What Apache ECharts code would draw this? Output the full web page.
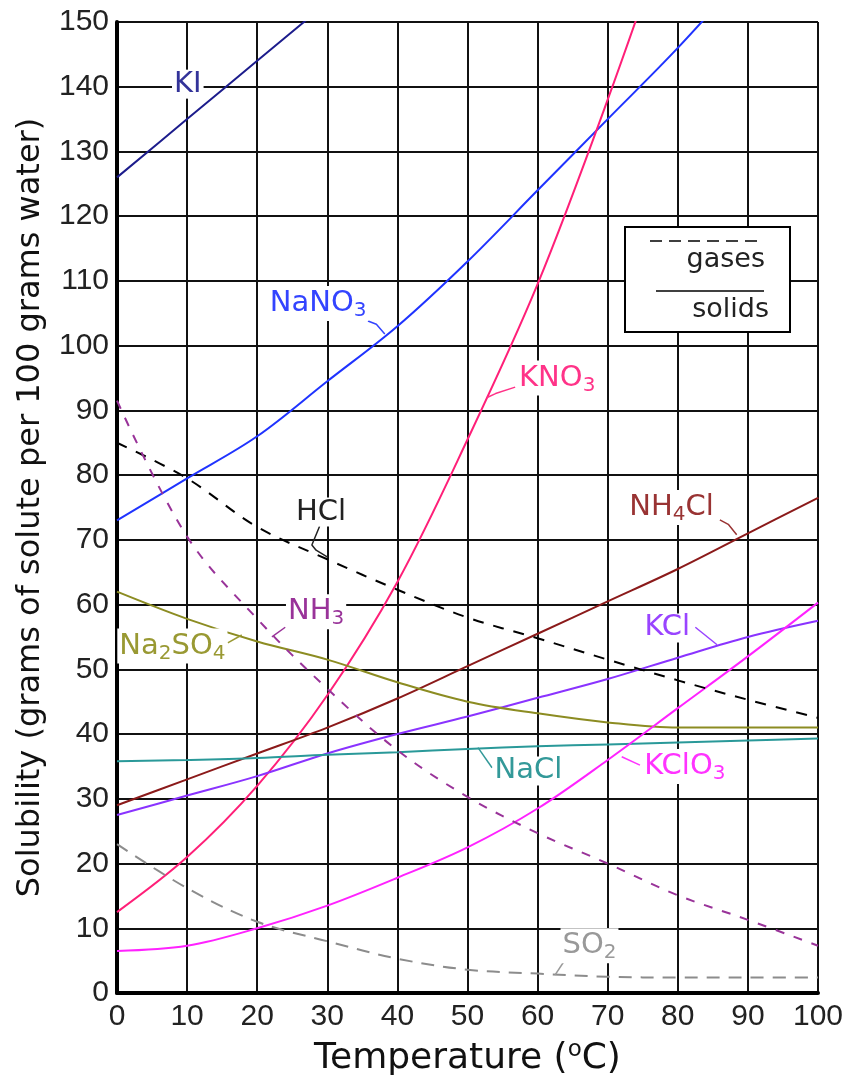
<!DOCTYPE html>
<html>
<head>
<meta charset="utf-8">
<script src="https://cdn.jsdelivr.net/npm/echarts@6/dist/echarts.min.js"></script>
<style>
html,body{margin:0;padding:0;background:#fff;}
#c{width:848px;height:1078px;}
</style>
</head>
<body>
<div id="c"></div>
<script>
// ---- data (temperature in °C, solubility g / 100 g water) ----
const temps = [0, 10, 20, 30, 40, 50, 60, 70, 80, 90, 100];
const xTicks = ['0','10','20','30','40','50','60','70','80','90','100'];
const yTicks = ['0','10','20','30','40','50','60','70','80','90','100','110','120','130','140','150'];

const KI     = [126, 135, 144, 153];
const NaNO3  = [73, 79.5, 86, 94.5, 103, 113, 124, 135, 146, 158];
const KNO3   = [12.5, 21, 32, 46, 63.5, 85.5, 109.5, 138, 169];
const NH4Cl  = [29, 33, 37, 41, 45.5, 50.5, 55.5, 60.5, 65.5, 71, 76.5];
const KCl    = [27.5, 30.5, 33.5, 37, 40, 42.7, 45.6, 48.5, 51.8, 55, 57.5];
const NaCl   = [35.8, 36, 36.3, 36.8, 37.2, 37.7, 38.1, 38.4, 38.7, 39, 39.3];
const Na2SO4 = [62, 57.8, 54.3, 51.5, 48, 45, 43.2, 41.8, 41, 41, 41];
const KClO3  = [6.5, 7.3, 10, 13.5, 17.8, 22.5, 28.5, 36, 44, 52, 60.3];
const HCl    = [85, 79.5, 72, 67, 62.3, 58, 54.8, 51.5, 48.3, 45.3, 42.5];
const NH3    = [91.5, 70.5, 57.8, 47, 37.5, 30.3, 24.7, 20, 15.1, 11.3, 7.3];
const SO2    = [23, 16.2, 11, 8, 5.3, 3.6, 3.0, 2.5, 2.4, 2.4, 2.4];

// ---- labels (anchor in data units) and leader lines ----
const labelText = {
  KI: 'KI', NaNO3: 'NaNO{s|3}', KNO3: 'KNO{s|3}', NH4Cl: 'NH{s|4}Cl', KCl: 'KCl',
  NaCl: 'NaCl', Na2SO4: 'Na{s|2}SO{s|4}', KClO3: 'KClO{s|3}', HCl: 'HCl', NH3: 'NH{s|3}', SO2: 'SO{s|2}'
};
const labelAt = {
  KI: [10.1, 140.4], NaNO3: [28.7, 106.5], KNO3: [62.8, 95.0], NH4Cl: [79.1, 75.0],
  KCl: [78.5, 56.4], NaCl: [58.7, 34.3], Na2SO4: [7.9, 53.6], KClO3: [81.0, 35.0],
  HCl: [29.1, 74.3], NH3: [28.4, 58.9], SO2: [67.4, 7.3]
};
const leaders = {
  NaNO3: [[35.8, 103.8], [37.0, 103.3], [38.2, 101.8]],
  KNO3: [[56.8, 93.6], [54.0, 92.6], [52.8, 92.0]],
  NH4Cl: [[86.0, 73.1], [87.2, 72.4], [88.4, 70.8]],
  KCl: [[82.5, 56.5], [85.6, 53.8]],
  NaCl: [[51.5, 37.9], [53.5, 34.8]],
  Na2SO4: [[15.8, 54.1], [17.8, 55.3]],
  KClO3: [[74.6, 35.2], [72.0, 36.5]],
  HCl: [[28.9, 72.1], [27.8, 69.2], [28.4, 68.4], [30.1, 67.3]],
  NH3: [[24.0, 56.5], [22.1, 55.0]],
  SO2: [[63.9, 5.1], [62.5, 2.8]]
};

const FONT = 'DejaVu Sans';
const TICKFONT = 'Liberation Sans';
const styles = {
  KI:     {line: '#1c1c8c', text: '#333399'},
  NaNO3:  {line: '#1f33ff', text: '#3344ff'},
  KNO3:   {line: '#ff1f78', text: '#ff3388'},
  NH4Cl:  {line: '#8b1a1a', text: '#993333'},
  KCl:    {line: '#8a33ff', text: '#9944ff'},
  NaCl:   {line: '#2a9999', text: '#339999'},
  Na2SO4: {line: '#8c8c22', text: '#999933'},
  KClO3:  {line: '#ff22ff', text: '#ff33ff'},
  HCl:    {line: '#000000', text: '#222222', dash: [11, 10]},
  NH3:    {line: '#993399', text: '#993399', dash: [9, 10]},
  SO2:    {line: '#8c8c8c', text: '#999999', dash: [13, 9]}
};
const seriesData = {KI, NaNO3, KNO3, NH4Cl, KCl, NaCl, Na2SO4, KClO3, HCl, NH3, SO2};

function pairs(vals) { return vals.map((v, i) => [temps[i], v]); }

const series = [];
Object.keys(seriesData).forEach(name => {
  const st = styles[name];
  series.push({
    name: name, type: 'line', data: pairs(seriesData[name]),
    smooth: 0.35, symbol: 'none', clip: true, z: 3,
    lineStyle: {color: st.line, width: 2, type: st.dash ? st.dash : 'solid'},
    markPoint: {
      symbol: 'rect', symbolSize: 1, itemStyle: {color: 'rgba(0,0,0,0)'},
      silent: true,
      data: [{coord: labelAt[name], value: name,
        label: {
          show: true, position: 'inside',
          formatter: labelText[name],
          color: st.text, fontFamily: FONT, fontSize: 29,
          backgroundColor: '#fff', padding: [0, 2, 0, 2],
          rich: {s: {fontSize: 20, color: st.text, fontFamily: FONT, padding: [15, 0, 0, 0]}}
        }}]
    }
  });
  if (leaders[name]) {
    series.push({
      type: 'line', data: leaders[name], symbol: 'none', smooth: false, z: 4,
      lineStyle: {color: st.text, width: 1.5}, silent: true
    });
  }
});

const chart = echarts.init(document.getElementById('c'), null, {renderer: 'canvas'});
chart.setOption({
  animation: false,
  backgroundColor: '#fff',
  grid: {left: 117, right: 30, top: 22, bottom: 85, containLabel: false, outerBoundsMode: 'none'},
  xAxis: {
    type: 'value', min: 0, max: 100, interval: 10,
    name: 'Temperature ({p|o}C)', nameLocation: 'middle', nameGap: 46,
    nameTextStyle: {fontFamily: FONT, fontSize: 36, color: '#111',
      rich: {p: {fontSize: 23, fontFamily: FONT, color: '#111', padding: [0, 0, 16, 0]}}},
    axisLine: {show: true, onZero: false, lineStyle: {color: '#000', width: 4}},
    axisTick: {show: false},
    axisLabel: {fontFamily: TICKFONT, fontSize: 30, color: '#222', margin: 9,
      formatter: v => xTicks[temps.indexOf(v)]},
    splitLine: {show: true, lineStyle: {color: '#111', width: 2}}
  },
  yAxis: {
    type: 'value', min: 0, max: 150, interval: 10,
    name: 'Solubility (grams of solute per 100 grams water)', nameLocation: 'middle', nameGap: 70,
    nameRotate: 90,
    nameTextStyle: {fontFamily: FONT, fontSize: 32, color: '#111'},
    axisLine: {show: true, onZero: false, lineStyle: {color: '#000', width: 4}},
    axisTick: {show: false},
    axisLabel: {fontFamily: TICKFONT, fontSize: 30, color: '#222', margin: 8,
      formatter: v => yTicks[Math.round(v / 10)]},
    splitLine: {show: true, lineStyle: {color: '#111', width: 2}}
  },
  graphic: [
    {type: 'rect', shape: {x: 625, y: 227, width: 165, height: 105}, z: 10,
      style: {fill: '#fff', stroke: '#000', lineWidth: 2}},
    {type: 'line', shape: {x1: 650, y1: 241, x2: 764, y2: 241}, z: 11,
      style: {stroke: '#000', lineWidth: 1.5, lineDash: [12, 7]}},
    {type: 'text', x: 765, y: 260, z: 11,
      style: {text: 'gases', font: '27px "DejaVu Sans"', fill: '#222', align: 'right', verticalAlign: 'middle'}},
    {type: 'line', shape: {x1: 656, y1: 291, x2: 764, y2: 291}, z: 11,
      style: {stroke: '#000', lineWidth: 1.5}},
    {type: 'text', x: 769, y: 310, z: 11,
      style: {text: 'solids', font: '27px "DejaVu Sans"', fill: '#222', align: 'right', verticalAlign: 'middle'}}
  ],
  series: series
});
</script>
</body>
</html>
